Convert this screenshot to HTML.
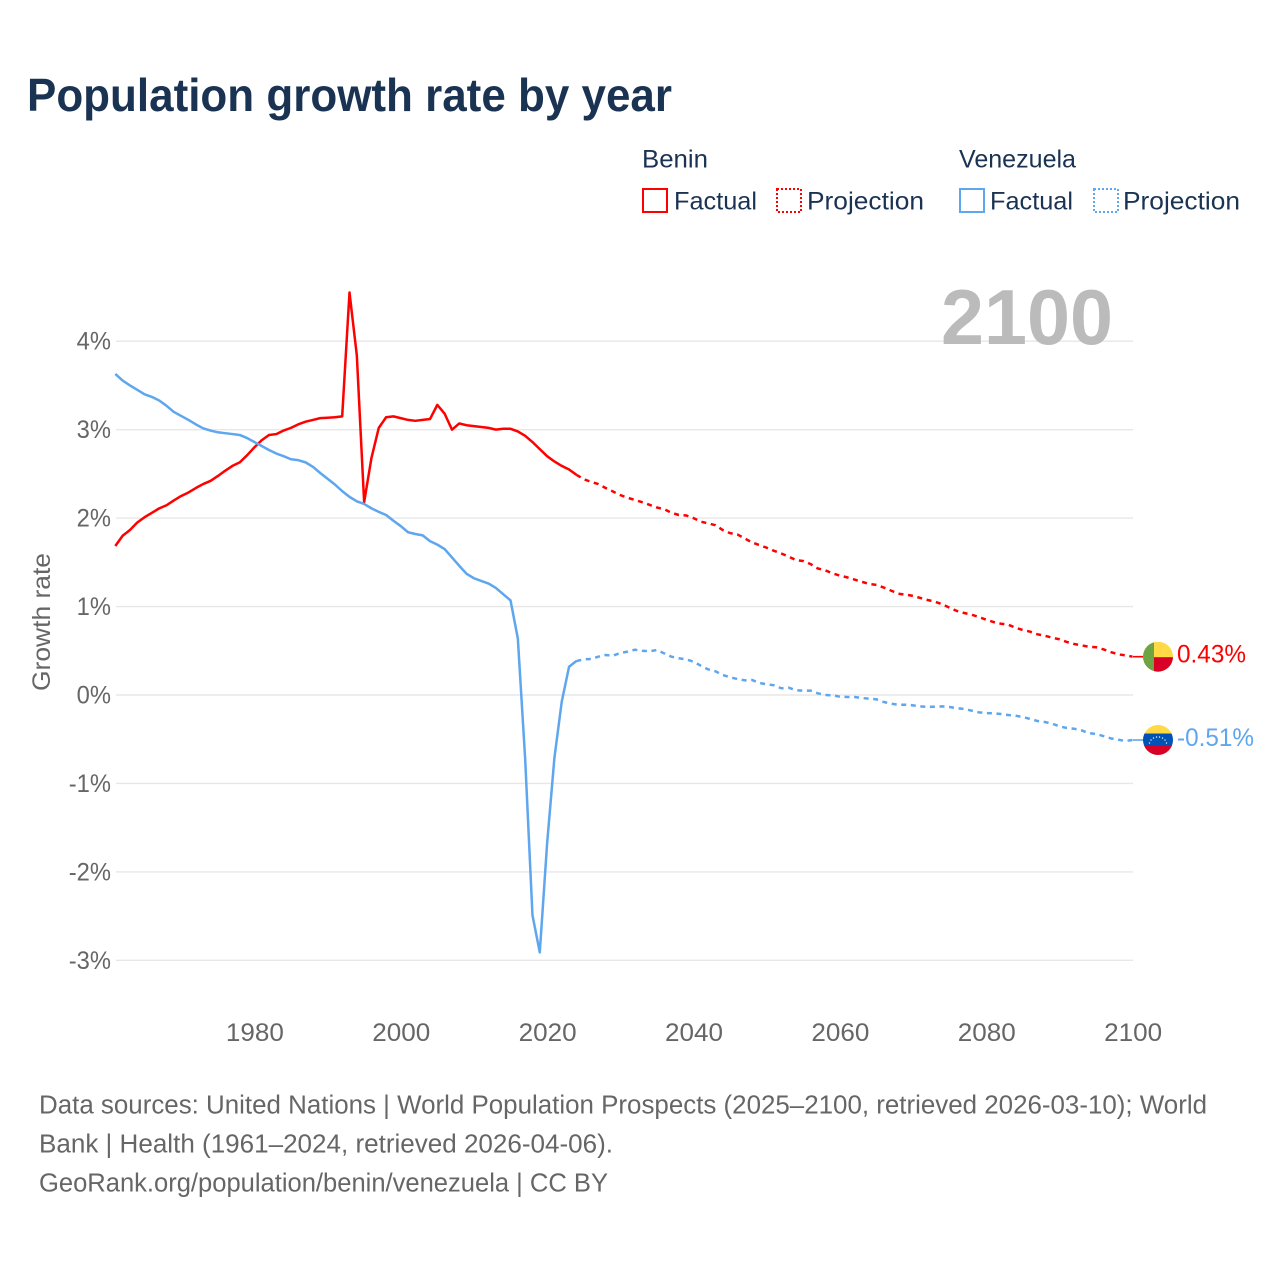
<!DOCTYPE html>
<html lang="en">
<head>
<meta charset="utf-8">
<title>Population growth rate by year</title>
<style>
html,body{margin:0;padding:0;background:#fff;}
svg{display:block;font-family:"Liberation Sans",sans-serif;}
</style>
</head>
<body>
<svg id="chart" xmlns="http://www.w3.org/2000/svg" width="1280" height="1280" viewBox="0 0 1280 1280">
  <rect x="0" y="0" width="1280" height="1280" fill="#ffffff"/>
  <text x="27" y="111" font-size="46" font-weight="700" fill="#1a3353" textLength="645" lengthAdjust="spacingAndGlyphs">Population growth rate by year</text>

  <g font-size="25" fill="#1a3353">
    <text x="642" y="167.5" textLength="66" lengthAdjust="spacingAndGlyphs">Benin</text>
    <text x="959" y="167.5" textLength="117" lengthAdjust="spacingAndGlyphs">Venezuela</text>
    <g>
      <rect x="643" y="189" width="24" height="23" fill="none" stroke="#ff0000" stroke-width="2"/>
      <text x="674" y="209.5" textLength="83" lengthAdjust="spacingAndGlyphs">Factual</text>
    </g>
    <g>
      <rect x="777" y="189" width="24" height="23" fill="none" stroke="#ff0000" stroke-width="2" stroke-dasharray="2 2"/>
      <text x="807" y="209.5" textLength="117" lengthAdjust="spacingAndGlyphs">Projection</text>
    </g>
    <g>
      <rect x="960" y="189" width="24" height="23" fill="none" stroke="#5ea6ee" stroke-width="2"/>
      <text x="990" y="209.5" textLength="83" lengthAdjust="spacingAndGlyphs">Factual</text>
    </g>
    <g>
      <rect x="1094" y="189" width="24" height="23" fill="none" stroke="#5ea6ee" stroke-width="2" stroke-dasharray="2 2"/>
      <text x="1123" y="209.5" textLength="117" lengthAdjust="spacingAndGlyphs">Projection</text>
    </g>
  </g>

  <g id="grid"></g>
  <g id="yticks" font-size="25" fill="#666666" text-anchor="end"></g>
  <g id="xticks" font-size="25" fill="#666666" text-anchor="middle"></g>
  <text transform="translate(50 622) rotate(-90)" font-size="25" fill="#666666" text-anchor="middle" textLength="138" lengthAdjust="spacingAndGlyphs">Growth rate</text>
  <text x="1113" y="344" font-size="78" font-weight="700" fill="#bbbbbb" text-anchor="end" textLength="172" lengthAdjust="spacingAndGlyphs">2100</text>

  <g id="series"></g>

  <g id="benin-end">
    <defs>
      <clipPath id="benin-clip"><circle cx="0" cy="0" r="15"/></clipPath>
      <clipPath id="venezuela-clip"><circle cx="0" cy="0" r="15"/></clipPath>
    </defs>
    <g clip-path="url(#benin-clip)">
      <rect x="-15" y="-15" width="30" height="30" fill="#ffda44"/>
      <rect x="-4" y="0.5" width="19" height="15" fill="#d80027"/>
      <rect x="-15" y="-15" width="11" height="30" fill="#6da544"/>
    </g>
    <text x="19" y="6" font-size="25" fill="#ff0000" textLength="69" lengthAdjust="spacingAndGlyphs">0.43%</text>
  </g>
  <g id="venezuela-end">
    <g clip-path="url(#venezuela-clip)">
      <rect x="-15" y="-15" width="30" height="9" fill="#ffda44"/>
      <rect x="-15" y="-6.5" width="30" height="13" fill="#0052b4"/>
      <rect x="-15" y="6" width="30" height="10" fill="#d80027"/>
      <g fill="#ffffff">
        <circle cx="-8.5" cy="3" r="0.7"/><circle cx="-7" cy="0" r="0.7"/><circle cx="-4.5" cy="-2" r="0.7"/><circle cx="-1.5" cy="-3" r="0.7"/>
        <circle cx="1.5" cy="-3" r="0.7"/><circle cx="4.5" cy="-2" r="0.7"/><circle cx="7" cy="0" r="0.7"/><circle cx="8.5" cy="3" r="0.7"/>
      </g>
    </g>
    <text x="19" y="6" font-size="25" fill="#5ea6ee" textLength="77" lengthAdjust="spacingAndGlyphs">-0.51%</text>
  </g>

  <g font-size="25.5" fill="#666666">
    <text x="39" y="1113.5" textLength="1168" lengthAdjust="spacingAndGlyphs">Data sources: United Nations | World Population Prospects (2025–2100, retrieved 2026-03-10); World</text>
    <text x="39" y="1152.5" textLength="574" lengthAdjust="spacingAndGlyphs">Bank | Health (1961–2024, retrieved 2026-04-06).</text>
    <text x="39" y="1191.5" textLength="569" lengthAdjust="spacingAndGlyphs">GeoRank.org/population/benin/venezuela | CC BY</text>
  </g>
</svg>

<script>
// Chart data: annual growth rate in percent
const factualStartYear = 1961;
const projectionStartYear = 2024;
const yTickValues = [-3, -2, -1, 0, 1, 2, 3, 4];
const xTickYears = [1980, 2000, 2020, 2040, 2060, 2080, 2100];
const beninFactual = [
  1.685, 1.80, 1.865, 1.95, 2.01, 2.06, 2.11, 2.145, 2.20, 2.25,
  2.29, 2.34, 2.385, 2.42, 2.475, 2.535, 2.59, 2.63, 2.71, 2.80,
  2.88, 2.94, 2.95, 2.99, 3.02, 3.06, 3.09, 3.11, 3.13, 3.135,
  3.14, 3.15, 4.55, 3.84, 2.18, 2.68, 3.02, 3.14, 3.15, 3.13,
  3.11, 3.10, 3.11, 3.12, 3.28, 3.18, 3.00, 3.07, 3.05, 3.04,
  3.03, 3.02, 3.00, 3.01, 3.01, 2.98, 2.93, 2.86, 2.78, 2.70,
  2.64, 2.59, 2.55, 2.49
];
const beninProjection = [
  2.49, 2.44, 2.41, 2.385, 2.34, 2.30, 2.26, 2.23, 2.205, 2.18,
  2.15, 2.12, 2.10, 2.06, 2.035, 2.03, 2.00, 1.96, 1.94, 1.92,
  1.865, 1.83, 1.815, 1.77, 1.725, 1.695, 1.665, 1.63, 1.60, 1.565,
  1.525, 1.515, 1.48, 1.43, 1.41, 1.375, 1.35, 1.33, 1.305, 1.28,
  1.255, 1.245, 1.215, 1.18, 1.145, 1.135, 1.12, 1.097, 1.074, 1.055,
  1.025, 0.987, 0.95, 0.927, 0.908, 0.882, 0.851, 0.825, 0.806, 0.795,
  0.761, 0.735, 0.716, 0.686, 0.67, 0.648, 0.63, 0.60, 0.577, 0.562,
  0.546, 0.54, 0.517, 0.486, 0.46, 0.449, 0.433
];
const venezuelaFactual = [
  3.63, 3.555, 3.50, 3.45, 3.40, 3.37, 3.33, 3.27, 3.20, 3.155,
  3.11, 3.06, 3.015, 2.99, 2.97, 2.96, 2.95, 2.94, 2.905, 2.86,
  2.815, 2.77, 2.73, 2.70, 2.665, 2.655, 2.63, 2.58, 2.51, 2.445,
  2.38, 2.305, 2.24, 2.19, 2.16, 2.11, 2.07, 2.035, 1.97, 1.91,
  1.84, 1.82, 1.805, 1.74, 1.70, 1.65, 1.555, 1.46, 1.37, 1.32,
  1.29, 1.26, 1.21, 1.14, 1.07, 0.64, -0.72, -2.49, -2.91, -1.68,
  -0.71, -0.075, 0.32, 0.384
];
const venezuelaProjection = [
  0.384, 0.403, 0.407, 0.433, 0.452, 0.445, 0.475, 0.49, 0.512, 0.50,
  0.494, 0.509, 0.471, 0.433, 0.415, 0.403, 0.377, 0.331, 0.29, 0.268,
  0.226, 0.20, 0.181, 0.166, 0.17, 0.136, 0.121, 0.11, 0.076, 0.083,
  0.053, 0.049, 0.049, 0.019, 0, -0.003, -0.019, -0.023, -0.023, -0.034,
  -0.042, -0.049, -0.079, -0.098, -0.11, -0.11, -0.117, -0.128, -0.136, -0.132,
  -0.128, -0.136, -0.15, -0.158, -0.177, -0.196, -0.204, -0.207, -0.215, -0.226,
  -0.234, -0.249, -0.271, -0.294, -0.305, -0.324, -0.354, -0.373, -0.381, -0.399,
  -0.43, -0.441, -0.464, -0.49, -0.505, -0.52, -0.509
];

const SVG_NS = 'http://www.w3.org/2000/svg';
const RED = '#ff0000';
const BLUE = '#5ea6ee';
const xAxis = function (year) { return 115.3 + (year - 1961) * (1132.6 - 115.3) / (2100 - 1961); };
const yAxis = function (value) { return 695 - value * 88.45; };

function make(parent, tag, attrs, text) {
  const el = document.createElementNS(SVG_NS, tag);
  for (const key in attrs) el.setAttribute(key, attrs[key]);
  if (text !== undefined) el.textContent = text;
  parent.appendChild(el);
  return el;
}

function pathFrom(values, startYear) {
  return values.map(function (v, i) {
    return (i ? 'L' : 'M') + xAxis(startYear + i).toFixed(2) + ' ' + yAxis(v).toFixed(2);
  }).join('');
}

const gridGroup = document.getElementById('grid');
const yTickGroup = document.getElementById('yticks');
const xTickGroup = document.getElementById('xticks');
const seriesGroup = document.getElementById('series');

yTickValues.forEach(function (v) {
  const line = make(gridGroup, 'line', { x1: 116, x2: 1133, y1: yAxis(v), y2: yAxis(v), stroke: '#e7e7e7', 'stroke-width': 1.4 });
  
  
  const label = make(yTickGroup, 'text', { x: 111, y: yAxis(v) + 8.5 }, v + '%');
  
  
  label.setAttribute('textLength', (label.getComputedTextLength() * 0.95).toFixed(2));
  label.setAttribute('lengthAdjust', 'spacingAndGlyphs');
});

xTickYears.forEach(function (year) {
  const label = make(xTickGroup, 'text', { x: xAxis(year) + 0.5, y: 1041 }, String(year));
  
  
  label.setAttribute('textLength', '58');
  label.setAttribute('lengthAdjust', 'spacingAndGlyphs');
});

const baseLine = { fill: 'none', 'stroke-width': 2.5, 'stroke-linejoin': 'round' };

const beninFactualLine = make(seriesGroup, 'path', Object.assign({ d: pathFrom(beninFactual, factualStartYear), stroke: RED }, baseLine));



const beninProjectionLine = make(seriesGroup, 'path', Object.assign({ d: pathFrom(beninProjection, projectionStartYear), stroke: RED, 'stroke-dasharray': '5 4.6' }, baseLine));



const venezuelaFactualLine = make(seriesGroup, 'path', Object.assign({ d: pathFrom(venezuelaFactual, factualStartYear), stroke: BLUE }, baseLine));



const venezuelaProjectionLine = make(seriesGroup, 'path', Object.assign({ d: pathFrom(venezuelaProjection, projectionStartYear), stroke: BLUE, 'stroke-dasharray': '5 4.6' }, baseLine));



const beninEndValue = beninProjection[beninProjection.length - 1];
const venezuelaEndValue = venezuelaProjection[venezuelaProjection.length - 1];

const beninConnector = make(seriesGroup, 'line', { x1: 1133, x2: 1144, y1: yAxis(beninEndValue), y2: yAxis(beninEndValue), stroke: RED, 'stroke-width': 1.6 });



const venezuelaConnector = make(seriesGroup, 'line', { x1: 1133, x2: 1144, y1: yAxis(venezuelaEndValue), y2: yAxis(venezuelaEndValue), stroke: BLUE, 'stroke-width': 1.6 });



document.getElementById('benin-end').setAttribute('transform', 'translate(1158 ' + yAxis(beninEndValue).toFixed(2) + ')');
document.getElementById('venezuela-end').setAttribute('transform', 'translate(1158 ' + yAxis(venezuelaEndValue).toFixed(2) + ')');
</script>
</body>
</html>
